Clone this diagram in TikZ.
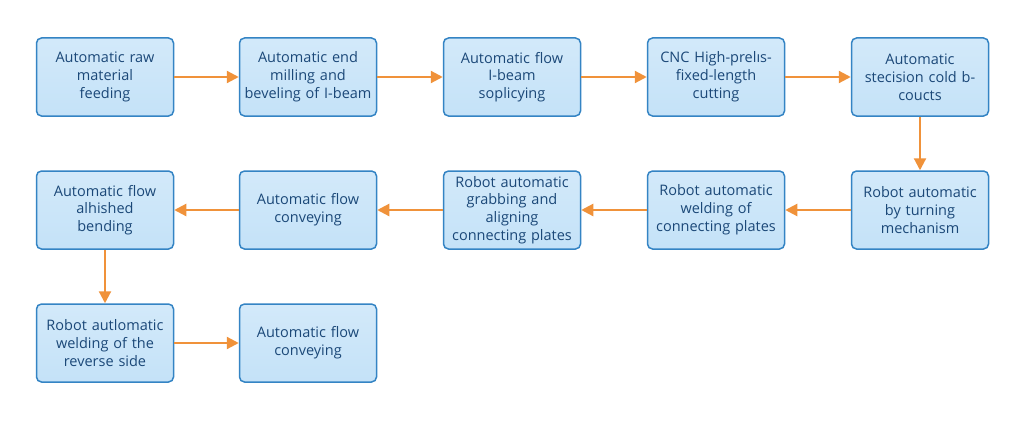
\documentclass[tikz,border=0pt]{standalone}
\usepackage{fontspec}
\setmainfont{Open Sans}
\usetikzlibrary{arrows.meta}
\definecolor{boxfill}{HTML}{C4E2F8}
\definecolor{boxline}{HTML}{3484C4}
\definecolor{txt}{HTML}{1B4878}
\definecolor{arr}{HTML}{F0923A}
\tikzset{
  procbox/.style={draw=boxline, line width=1.5pt, rounded corners=5pt,
    top color=boxfill!75!white, bottom color=boxfill, minimum width=137pt, minimum height=78pt,
    text width=134pt, align=center, text=txt, font=\fontsize{14.5}{17.8}\selectfont, inner sep=1pt},
  flow/.style={draw=arr, line width=2.2pt, -{Triangle[length=12pt,width=12pt]}}
}
\begin{document}
\begin{tikzpicture}[x=1pt,y=-1pt]
\useasboundingbox[fill=white] (0,0) rectangle (1024,420);
\node[procbox] (a1) at (105,77) {Automatic raw\\material\\feeding};
\node[procbox] (a2) at (308,77) {Automatic end\\milling and\\beveling of I-beam};
\node[procbox] (a3) at (512,77) {Automatic flow\\I-beam\\soplicying};
\node[procbox] (a4) at (716,77) {CNC High-prelıs-\\fixed-length\\cutting};
\node[procbox] (a5) at (920,77) {Automatic\\stecision cold b-\\coucts};
\node[procbox] (b5) at (920,210) {Robot automatic\\by turning\\mechanism};
\node[procbox] (b4) at (716,210) {Robot automatic\\welding of\\connecting plates};
\node[procbox] (b3) at (512,210) {Robot automatic\\grabbing and\\aligning\\connecting plates};
\node[procbox] (b2) at (308,210) {Automatic flow\\conveying};
\node[procbox] (b1) at (105,210) {Automatic flow\\alhished\\bending};
\node[procbox] (c1) at (105,343) {Robot autlomatic\\welding of the\\reverse side};
\node[procbox] (c2) at (308,343) {Automatic flow\\conveying};
\draw[flow] (a1) -- (a2);
\draw[flow] (a2) -- (a3);
\draw[flow] (a3) -- (a4);
\draw[flow] (a4) -- (a5);
\draw[flow] (a5) -- (b5);
\draw[flow] (b5) -- (b4);
\draw[flow] (b4) -- (b3);
\draw[flow] (b3) -- (b2);
\draw[flow] (b2) -- (b1);
\draw[flow] (b1) -- (c1);
\draw[flow] (c1) -- (c2);
\end{tikzpicture}
\end{document}
